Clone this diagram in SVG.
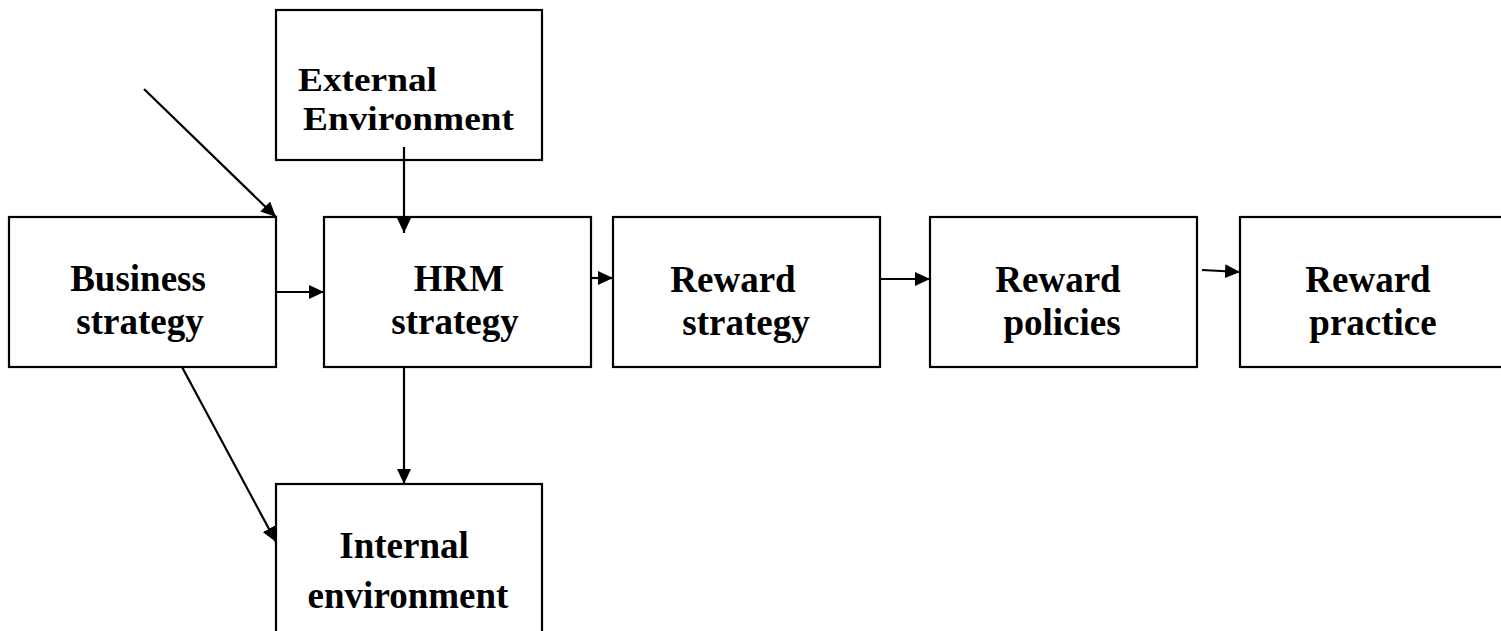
<svg xmlns="http://www.w3.org/2000/svg" width="1501" height="631" viewBox="0 0 1501 631">
<style>
.box{fill:#fff;stroke:#000;stroke-width:2.2}
.t{font-family:"Liberation Serif","Times New Roman",serif;font-weight:bold;font-size:37px;fill:#000}
.s{font-size:34px}
.c{stroke:#000;stroke-width:2.2;fill:none;marker-end:url(#ah)}
</style>
<defs>
<marker id="ah" markerUnits="userSpaceOnUse" markerWidth="16" markerHeight="14" refX="15" refY="7" orient="auto">
<path d="M0,0 L15,7 L0,14 z" fill="#000"/>
</marker>
</defs>
<g id="external">
<rect class="box" x="276" y="10" width="266" height="150"/>
<text class="t s" x="298" y="91" textLength="139" lengthAdjust="spacingAndGlyphs">External</text>
<text class="t s" x="303" y="130" textLength="211" lengthAdjust="spacingAndGlyphs">Environment</text>
</g>
<g id="business">
<rect class="box" x="9" y="217" width="267" height="150"/>
<text class="t" x="138" y="291" text-anchor="middle">Business</text>
<text class="t" x="140" y="334" text-anchor="middle">strategy</text>
</g>
<g id="hrm">
<rect class="box" x="324" y="217" width="267" height="150"/>
<text class="t" x="459" y="291" text-anchor="middle">HRM</text>
<text class="t" x="455" y="334" text-anchor="middle">strategy</text>
</g>
<g id="reward-strategy">
<rect class="box" x="613" y="217" width="267" height="150"/>
<text class="t" x="733" y="292" text-anchor="middle">Reward</text>
<text class="t" x="746" y="335" text-anchor="middle">strategy</text>
</g>
<g id="reward-policies">
<rect class="box" x="930" y="217" width="267" height="150"/>
<text class="t" x="1058" y="292" text-anchor="middle">Reward</text>
<text class="t" x="1062" y="335" text-anchor="middle">policies</text>
</g>
<g id="reward-practice">
<rect class="box" x="1240" y="217" width="280" height="150"/>
<text class="t" x="1368" y="292" text-anchor="middle">Reward</text>
<text class="t" x="1373" y="335" text-anchor="middle">practice</text>
</g>
<g id="internal">
<rect class="box" x="276" y="484" width="266" height="160"/>
<text class="t" x="404" y="558" text-anchor="middle">Internal</text>
<text class="t" x="408" y="608" text-anchor="middle">environment</text>
</g>
<g id="connectors">
<line class="c" x1="144" y1="89" x2="276" y2="217"/>
<line class="c" x1="404" y1="147" x2="404" y2="233"/>
<line class="c" x1="276" y1="292" x2="324" y2="292"/>
<line class="c" x1="591" y1="278" x2="613" y2="278"/>
<line class="c" x1="880" y1="279" x2="930" y2="279"/>
<line class="c" x1="1202" y1="270" x2="1240" y2="272"/>
<line class="c" x1="404" y1="367" x2="404" y2="484"/>
<line class="c" x1="182" y1="367" x2="276" y2="542"/>
</g>
</svg>
